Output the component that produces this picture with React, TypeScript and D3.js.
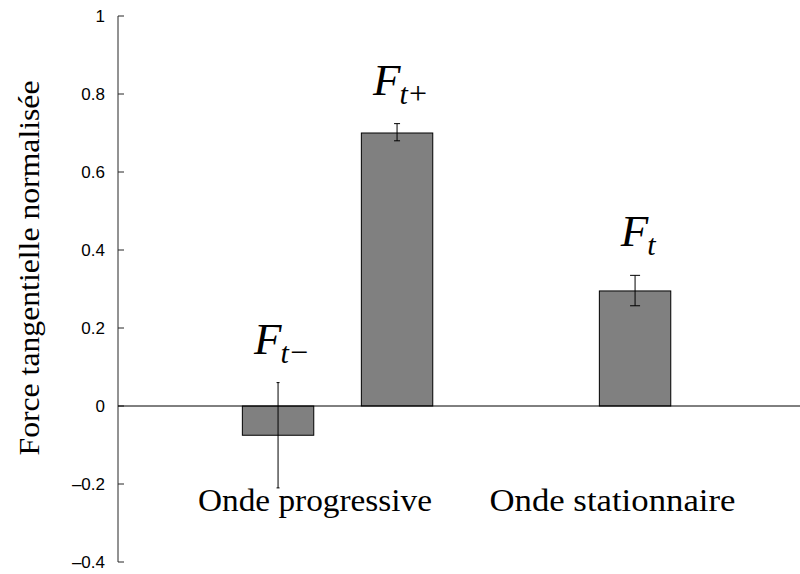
import React from "react";
import * as d3 from "d3";

const categories = ["Onde progressive", "Onde stationnaire"];
const categoryPos = [1.31, 3.81];
const barPos = [1, 2, 4];
const barValues = [-0.075, 0.7, 0.295];
const errLow = [-0.21, 0.68, 0.257];
const errHigh = [0.06, 0.724, 0.335];
const barSubs = ["t−", "t+", "t"];
const capWidths = [3, 6, 10];
const yTicks = [-0.4, -0.2, 0, 0.2, 0.4, 0.6, 0.8, 1];
const yTitle = "Force tangentielle normalisée";

const W = 800;
const H = 574;
const AXIS_X = 118;

export default function App() {
  const y = d3.scaleLinear().domain([-0.4, 1]).range([562, 16]);
  const x = d3.scaleLinear().domain([-0.345, 5.386]).range([AXIS_X, W]);
  const barW = 0.6;
  const fmt = (v: number) => {
    const s = d3.format("~g")(Math.round(v * 10) / 10);
    return s.replace("-", "\u2013").replace("\u2212", "\u2013");
  };
  const serif = "'Liberation Serif', 'DejaVu Serif', serif";
  const sans = "'Liberation Sans', Arial, Helvetica, sans-serif";

  return (
    <svg
      width={W}
      height={H}
      style={{ position: "absolute", left: 0, top: 0, background: "#fff" }}
    >
      {/* y axis */}
      <line x1={AXIS_X} x2={AXIS_X} y1={y(1)} y2={y(-0.4)} stroke="#262626" strokeWidth={1} />
      {yTicks.map((t) => (
        <g key={t}>
          <line x1={AXIS_X} x2={AXIS_X + 6} y1={y(t)} y2={y(t)} stroke="#262626" strokeWidth={1} />
          <text
            x={AXIS_X - 13}
            y={y(t)}
            dy="0.36em"
            textAnchor="end"
            fontFamily={sans}
            fontSize={17}
            fill="#000"
          >
            {fmt(t)}
          </text>
        </g>
      ))}
      <text
        transform={`translate(39, ${(y(1) + y(-0.4)) / 2 - 21}) rotate(-90)`}
        textAnchor="middle"
        fontFamily={serif}
        fontSize={29}
        textLength={375}
        lengthAdjust="spacingAndGlyphs"
        fill="#000"
      >
        {yTitle}
      </text>

      {/* bars */}
      {barValues.map((v, i) => (
        <rect
          key={i}
          x={x(barPos[i] - barW / 2)}
          width={x(barPos[i] + barW / 2) - x(barPos[i] - barW / 2)}
          y={y(Math.max(0, v))}
          height={Math.abs(y(v) - y(0))}
          fill="#808080"
          stroke="#000"
          strokeWidth={1}
        />
      ))}

      {/* zero line */}
      <line x1={AXIS_X} x2={W} y1={y(0)} y2={y(0)} stroke="#000" strokeWidth={1} />

      {/* error bars */}
      {barValues.map((v, i) => {
        const cx = x(barPos[i]);
        const cw = capWidths[i] / 2;
        return (
          <g key={i} stroke="#000" strokeWidth={1}>
            <line x1={cx} x2={cx} y1={y(errHigh[i])} y2={y(errLow[i])} />
            <line x1={cx - cw} x2={cx + cw} y1={y(errHigh[i])} y2={y(errHigh[i])} />
            <line x1={cx - cw} x2={cx + cw} y1={y(errLow[i])} y2={y(errLow[i])} />
          </g>
        );
      })}

      {/* math labels */}
      {barValues.map((v, i) => {
        const cx = x(barPos[i]) + 3;
        const base = y(errHigh[i]) - 29;
        return (
          <text
            key={i}
            x={cx}
            y={base}
            textAnchor="middle"
            fontFamily={serif}
            fill="#000"
          >
            <tspan fontStyle="italic" fontSize={45}>F</tspan>
            <tspan fontStyle="italic" fontSize={30} dy={9} dx={-1}>
              {barSubs[i].charAt(0)}
            </tspan>
            {barSubs[i].length > 1 ? (
              <tspan fontSize={32} dx={1}>{barSubs[i].slice(1)}</tspan>
            ) : null}
          </text>
        );
      })}

      {/* category labels */}
      {categories.map((c, i) => (
        <text
          key={c}
          x={x(categoryPos[i])}
          y={y(-0.27)}
          textAnchor="middle"
          fontFamily={serif}
          fontSize={32}
          textLength={i === 0 ? 234 : 246}
          lengthAdjust="spacingAndGlyphs"
          fill="#000"
        >
          {c}
        </text>
      ))}
    </svg>
  );
}
